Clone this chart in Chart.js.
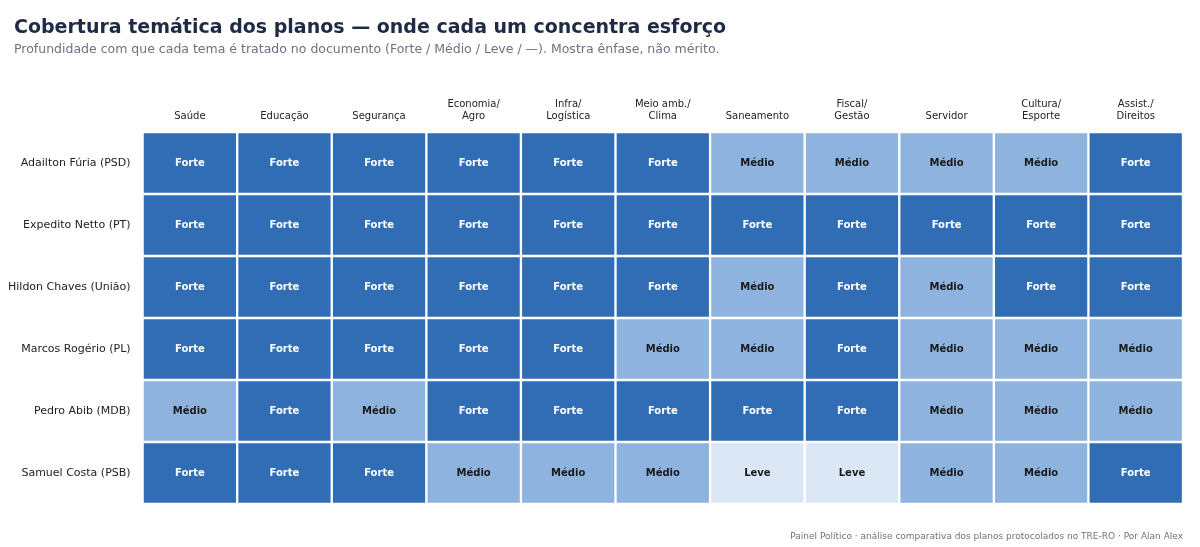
<!DOCTYPE html>
<html><head><meta charset="utf-8">
<script src="https://cdn.jsdelivr.net/npm/chart.js@4"></script>
<style>
body{margin:0;background:#fff;font-family:"DejaVu Sans",sans-serif;}
#wrap{position:relative;width:1200px;height:547px;}
#title{position:absolute;left:14px;top:15px;font-size:19px;font-weight:bold;color:#1f2a44;}
#sub{position:absolute;left:14px;top:41px;font-size:12.5px;color:#6b7280;}
#foot{position:absolute;right:17px;top:531px;font-size:9px;color:#6b7280;}
</style></head>
<body><div id="wrap">
<canvas id="heat" width="1200" height="547"></canvas>
<div id="title">Cobertura temática dos planos — onde cada um concentra esforço</div>
<div id="sub">Profundidade com que cada tema é tratado no documento (Forte / Médio / Leve / —). Mostra ênfase, não mérito.</div>
<div id="foot">Painel Político · análise comparativa dos planos protocolados no TRE-RO · Por Alan Alex</div>
</div>
<script>
const themes = [['Saúde'],['Educação'],['Segurança'],['Economia/','Agro'],['Infra/','Logística'],['Meio amb./','Clima'],['Saneamento'],['Fiscal/','Gestão'],['Servidor'],['Cultura/','Esporte'],['Assist./','Direitos']];
const candidates = ['Adailton Fúria (PSD)','Expedito Netto (PT)','Hildon Chaves (União)','Marcos Rogério (PL)','Pedro Abib (MDB)','Samuel Costa (PSB)'];
const coverage = [
  ['Forte','Forte','Forte','Forte','Forte','Forte','Médio','Médio','Médio','Médio','Forte'],
  ['Forte','Forte','Forte','Forte','Forte','Forte','Forte','Forte','Forte','Forte','Forte'],
  ['Forte','Forte','Forte','Forte','Forte','Forte','Médio','Forte','Médio','Forte','Forte'],
  ['Forte','Forte','Forte','Forte','Forte','Médio','Médio','Forte','Médio','Médio','Médio'],
  ['Médio','Forte','Médio','Forte','Forte','Forte','Forte','Forte','Médio','Médio','Médio'],
  ['Forte','Forte','Forte','Médio','Médio','Médio','Leve','Leve','Médio','Médio','Forte']
];
const levelColor = {'Forte':'#306db5','Médio':'#8db3de','Leve':'#dce7f5'};
const levelText = {'Forte':'#ffffff','Médio':'#1a1a1a','Leve':'#1a1a1a'};

const datasets = coverage.map((row, r) => ({
  data: row.map(() => [r, r + 1]),
  backgroundColor: row.map(v => levelColor[v]),
  borderColor: '#ffffff',
  borderWidth: 1.5,
  borderSkipped: false,
  grouped: false,
  barPercentage: 1,
  categoryPercentage: 1
}));

const cellLabels = {
  id: 'cellLabels',
  afterDatasetsDraw(chart) {
    const c = chart.ctx;
    c.save();
    c.font = 'bold 10px "DejaVu Sans"';
    c.textAlign = 'center';
    c.textBaseline = 'middle';
    chart.data.datasets.forEach((ds, r) => {
      chart.getDatasetMeta(r).data.forEach((bar, i) => {
        const v = coverage[r][i];
        c.fillStyle = levelText[v];
        c.fillText(v, bar.x, (bar.y + bar.base) / 2);
      });
    });
    c.restore();
  }
};

new Chart(document.getElementById('heat'), {
  type: 'bar',
  data: { labels: themes, datasets: datasets },
  options: {
    responsive: false,
    animation: false,
    layout: { padding: { top: 96, right: 17, bottom: 43, left: 4 } },
    plugins: { legend: { display: false }, tooltip: { enabled: false } },
    scales: {
      x: {
        position: 'top',
        grid: { display: false },
        border: { display: false },
        ticks: { color: '#222', font: { family: 'DejaVu Sans', size: 10 }, maxRotation: 0, autoSkip: false, padding: 2 }
      },
      y: {
        reverse: true,
        min: 0, max: 6,
        grid: { display: false },
        border: { display: false },
        afterBuildTicks: axis => { axis.ticks = candidates.map((n, i) => ({ value: i + 0.5 })); },
        ticks: { color: '#222', font: { family: 'DejaVu Sans', size: 11 }, padding: 4,
          callback: (v) => candidates[Math.floor(v)] }
      }
    }
  },
  plugins: [cellLabels]
});
</script>
</body></html>
